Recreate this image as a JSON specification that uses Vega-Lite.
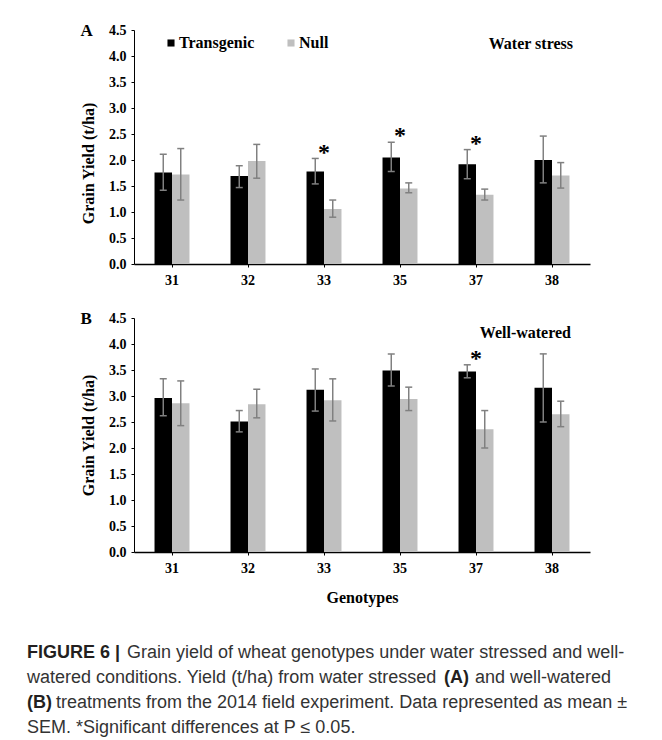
{
  "$schema": "https://vega.github.io/schema/vega-lite/v6.json",
  "background": "white",
  "padding": {"left": 27, "top": 22, "right": 0, "bottom": 0},
  "center": true,
  "spacing": 23,
  "datasets": {
    "yield": [
      {"panel": "A", "genotype": "31", "treatment": "Transgenic", "yield": 1.76, "lo": 1.42, "hi": 2.11},
      {"panel": "A", "genotype": "31", "treatment": "Null", "yield": 1.72, "lo": 1.23, "hi": 2.22},
      {"panel": "A", "genotype": "32", "treatment": "Transgenic", "yield": 1.69, "lo": 1.47, "hi": 1.89},
      {"panel": "A", "genotype": "32", "treatment": "Null", "yield": 1.98, "lo": 1.65, "hi": 2.30},
      {"panel": "A", "genotype": "33", "treatment": "Transgenic", "yield": 1.78, "lo": 1.54, "hi": 2.03},
      {"panel": "A", "genotype": "33", "treatment": "Null", "yield": 1.06, "lo": 0.90, "hi": 1.23},
      {"panel": "A", "genotype": "35", "treatment": "Transgenic", "yield": 2.05, "lo": 1.78, "hi": 2.34},
      {"panel": "A", "genotype": "35", "treatment": "Null", "yield": 1.45, "lo": 1.37, "hi": 1.56},
      {"panel": "A", "genotype": "37", "treatment": "Transgenic", "yield": 1.92, "lo": 1.64, "hi": 2.20},
      {"panel": "A", "genotype": "37", "treatment": "Null", "yield": 1.33, "lo": 1.23, "hi": 1.44},
      {"panel": "A", "genotype": "38", "treatment": "Transgenic", "yield": 2.00, "lo": 1.56, "hi": 2.46},
      {"panel": "A", "genotype": "38", "treatment": "Null", "yield": 1.70, "lo": 1.46, "hi": 1.95},
      {"panel": "B", "genotype": "31", "treatment": "Transgenic", "yield": 2.96, "lo": 2.62, "hi": 3.33},
      {"panel": "B", "genotype": "31", "treatment": "Null", "yield": 2.86, "lo": 2.43, "hi": 3.29},
      {"panel": "B", "genotype": "32", "treatment": "Transgenic", "yield": 2.51, "lo": 2.31, "hi": 2.72},
      {"panel": "B", "genotype": "32", "treatment": "Null", "yield": 2.84, "lo": 2.58, "hi": 3.13},
      {"panel": "B", "genotype": "33", "treatment": "Transgenic", "yield": 3.12, "lo": 2.71, "hi": 3.52},
      {"panel": "B", "genotype": "33", "treatment": "Null", "yield": 2.92, "lo": 2.52, "hi": 3.33},
      {"panel": "B", "genotype": "35", "treatment": "Transgenic", "yield": 3.49, "lo": 3.19, "hi": 3.81},
      {"panel": "B", "genotype": "35", "treatment": "Null", "yield": 2.94, "lo": 2.72, "hi": 3.17},
      {"panel": "B", "genotype": "37", "treatment": "Transgenic", "yield": 3.47, "lo": 3.35, "hi": 3.60},
      {"panel": "B", "genotype": "37", "treatment": "Null", "yield": 2.36, "lo": 2.00, "hi": 2.72},
      {"panel": "B", "genotype": "38", "treatment": "Transgenic", "yield": 3.16, "lo": 2.50, "hi": 3.81},
      {"panel": "B", "genotype": "38", "treatment": "Null", "yield": 2.65, "lo": 2.41, "hi": 2.90}
    ],
    "sig": [
      {"panel": "A", "genotype": "33", "star": 2.21},
      {"panel": "A", "genotype": "35", "star": 2.53},
      {"panel": "A", "genotype": "37", "star": 2.39},
      {"panel": "B", "genotype": "37", "star": 3.78}
    ],
    "caption": [
      {"line": 1, "seg": "b1", "text": "FIGURE 6 |"},
      {"line": 1, "seg": "r1", "text": "Grain yield of wheat genotypes under water stressed and well-"},
      {"line": 2, "seg": "r0", "text": "watered conditions. Yield (t/ha) from water stressed"},
      {"line": 2, "seg": "bA", "text": "(A)"},
      {"line": 2, "seg": "rA", "text": "and well-watered"},
      {"line": 3, "seg": "b1", "text": "(B)"},
      {"line": 3, "seg": "rB", "text": "treatments from the 2014 field experiment. Data represented as mean ±"},
      {"line": 4, "seg": "r0", "text": "SEM. *Significant differences at P ≤ 0.05."}
    ]
  },
  "resolve": {"legend": {"color": "independent"}},
  "vconcat": [
    {
      "width": 456,
      "height": 234,
      "title": {"text": "A", "anchor": "start", "frame": "bounds", "orient": "top", "offset": -17, "font": "Liberation Serif", "fontSize": 17, "fontWeight": "bold", "color": "#000"},
      "layer": [
        {
          "data": {"name": "yield"},
          "transform": [{"filter": "datum.panel === 'A'"}],
          "mark": {"type": "bar"},
          "encoding": {
            "x": {"field": "genotype", "type": "nominal", "title": null, "scale": {"paddingInner": 0.54, "paddingOuter": 0.27}},
            "xOffset": {"field": "treatment", "type": "nominal", "sort": ["Transgenic", "Null"], "scale": {"domain": ["Transgenic", "Null"], "paddingInner": 0}},
            "y": {"field": "yield", "type": "quantitative", "title": "Grain Yield (t/ha)", "scale": {"domain": [0, 4.5], "nice": false}, "axis": {"tickCount": 10, "format": ".1f", "labelOverlap": false, "titleY": 133}},
            "color": {"field": "treatment", "type": "nominal", "scale": {"domain": ["Transgenic", "Null"], "range": ["#000000", "#bfbfbf"]},
              "legend": {"orient": "none", "legendX": 29, "legendY": 5, "direction": "horizontal", "title": null, "symbolType": "square", "symbolSize": 50, "symbolStrokeWidth": 0, "symbolOpacity": 1, "labelFont": "Liberation Serif", "labelFontSize": 16, "labelFontWeight": "bold", "labelColor": "#000", "columnPadding": 28, "labelOffset": 0, "padding": 0}}
          }
        },
        {
          "data": {"name": "yield"},
          "transform": [{"filter": "datum.panel === 'A'"}],
          "mark": {"type": "rule", "color": "#808080", "strokeWidth": 1.5},
          "encoding": {
            "x": {"field": "genotype", "type": "nominal", "title": null},
            "xOffset": {"field": "treatment", "type": "nominal", "sort": ["Transgenic", "Null"]},
            "y": {"field": "lo", "type": "quantitative", "title": "Grain Yield (t/ha)", "axis": {"tickCount": 10, "format": ".1f", "labelOverlap": false}},
            "y2": {"field": "hi"}
          }
        },
        {
          "data": {"name": "yield"},
          "transform": [{"filter": "datum.panel === 'A'"}],
          "mark": {"type": "tick", "orient": "horizontal", "size": 7, "thickness": 1.5, "color": "#808080", "opacity": 1},
          "encoding": {
            "x": {"field": "genotype", "type": "nominal", "title": null},
            "xOffset": {"field": "treatment", "type": "nominal", "sort": ["Transgenic", "Null"]},
            "y": {"field": "lo", "type": "quantitative", "title": "Grain Yield (t/ha)", "axis": {"tickCount": 10, "format": ".1f", "labelOverlap": false}}
          }
        },
        {
          "data": {"name": "yield"},
          "transform": [{"filter": "datum.panel === 'A'"}],
          "mark": {"type": "tick", "orient": "horizontal", "size": 7, "thickness": 1.5, "color": "#808080", "opacity": 1},
          "encoding": {
            "x": {"field": "genotype", "type": "nominal", "title": null},
            "xOffset": {"field": "treatment", "type": "nominal", "sort": ["Transgenic", "Null"]},
            "y": {"field": "hi", "type": "quantitative", "title": "Grain Yield (t/ha)", "axis": {"tickCount": 10, "format": ".1f", "labelOverlap": false}}
          }
        },
        {
          "data": {"name": "sig"},
          "transform": [{"filter": "datum.panel === 'A'"}],
          "mark": {"type": "text", "text": "*", "font": "Liberation Serif", "fontSize": 24, "fontWeight": "bold", "baseline": "alphabetic", "dy": 11, "color": "#000"},
          "encoding": {
            "x": {"field": "genotype", "type": "nominal", "title": null},
            "y": {"field": "star", "type": "quantitative", "title": "Grain Yield (t/ha)", "axis": {"tickCount": 10, "format": ".1f", "labelOverlap": false}}
          }
        },
        {
          "data": {"values": [{}]},
          "mark": {"type": "text", "text": "Water stress", "font": "Liberation Serif", "fontSize": 16, "fontWeight": "bold", "align": "right", "baseline": "middle", "dx": 21, "color": "#000"},
          "encoding": {
            "x": {"datum": "38", "type": "nominal"},
            "y": {"datum": 4.23, "type": "quantitative"}
          }
        }
      ]
    },
    {
      "width": 456,
      "height": 234,
      "title": {"text": "B", "anchor": "start", "frame": "bounds", "orient": "top", "offset": -17, "font": "Liberation Serif", "fontSize": 17, "fontWeight": "bold", "color": "#000"},
      "layer": [
        {
          "data": {"name": "yield"},
          "transform": [{"filter": "datum.panel === 'B'"}],
          "mark": {"type": "bar"},
          "encoding": {
            "x": {"field": "genotype", "type": "nominal", "title": "Genotypes", "scale": {"paddingInner": 0.54, "paddingOuter": 0.27}},
            "xOffset": {"field": "treatment", "type": "nominal", "sort": ["Transgenic", "Null"], "scale": {"domain": ["Transgenic", "Null"], "paddingInner": 0}},
            "y": {"field": "yield", "type": "quantitative", "title": "Grain Yield (t/ha)", "scale": {"domain": [0, 4.5], "nice": false}, "axis": {"tickCount": 10, "format": ".1f", "labelOverlap": false}},
            "color": {"field": "treatment", "type": "nominal", "scale": {"domain": ["Transgenic", "Null"], "range": ["#000000", "#bfbfbf"]}, "legend": null}
          }
        },
        {
          "data": {"name": "yield"},
          "transform": [{"filter": "datum.panel === 'B'"}],
          "mark": {"type": "rule", "color": "#808080", "strokeWidth": 1.5},
          "encoding": {
            "x": {"field": "genotype", "type": "nominal", "title": "Genotypes"},
            "xOffset": {"field": "treatment", "type": "nominal", "sort": ["Transgenic", "Null"]},
            "y": {"field": "lo", "type": "quantitative", "title": "Grain Yield (t/ha)", "axis": {"tickCount": 10, "format": ".1f", "labelOverlap": false}},
            "y2": {"field": "hi"}
          }
        },
        {
          "data": {"name": "yield"},
          "transform": [{"filter": "datum.panel === 'B'"}],
          "mark": {"type": "tick", "orient": "horizontal", "size": 7, "thickness": 1.5, "color": "#808080", "opacity": 1},
          "encoding": {
            "x": {"field": "genotype", "type": "nominal", "title": "Genotypes"},
            "xOffset": {"field": "treatment", "type": "nominal", "sort": ["Transgenic", "Null"]},
            "y": {"field": "lo", "type": "quantitative", "title": "Grain Yield (t/ha)", "axis": {"tickCount": 10, "format": ".1f", "labelOverlap": false}}
          }
        },
        {
          "data": {"name": "yield"},
          "transform": [{"filter": "datum.panel === 'B'"}],
          "mark": {"type": "tick", "orient": "horizontal", "size": 7, "thickness": 1.5, "color": "#808080", "opacity": 1},
          "encoding": {
            "x": {"field": "genotype", "type": "nominal", "title": "Genotypes"},
            "xOffset": {"field": "treatment", "type": "nominal", "sort": ["Transgenic", "Null"]},
            "y": {"field": "hi", "type": "quantitative", "title": "Grain Yield (t/ha)", "axis": {"tickCount": 10, "format": ".1f", "labelOverlap": false}}
          }
        },
        {
          "data": {"name": "sig"},
          "transform": [{"filter": "datum.panel === 'B'"}],
          "mark": {"type": "text", "text": "*", "font": "Liberation Serif", "fontSize": 24, "fontWeight": "bold", "baseline": "alphabetic", "dy": 11, "color": "#000"},
          "encoding": {
            "x": {"field": "genotype", "type": "nominal", "title": "Genotypes"},
            "y": {"field": "star", "type": "quantitative", "title": "Grain Yield (t/ha)", "axis": {"tickCount": 10, "format": ".1f", "labelOverlap": false}}
          }
        },
        {
          "data": {"values": [{}]},
          "mark": {"type": "text", "text": "Well-watered", "font": "Liberation Serif", "fontSize": 16, "fontWeight": "bold", "align": "right", "baseline": "middle", "dx": 19, "color": "#000"},
          "encoding": {
            "x": {"datum": "38", "type": "nominal"},
            "y": {"datum": 4.21, "type": "quantitative"}
          }
        }
      ]
    },
    {
      "width": 600,
      "height": 125,
      "data": {"name": "caption"},
      "encoding": {
        "y": {"field": "line", "type": "ordinal", "axis": null, "scale": {"type": "point", "padding": 1.15}},
        "x": {"value": 0},
        "text": {"field": "text"}
      },
      "layer": [
        {"transform": [{"filter": "datum.seg === 'b1'"}], "mark": {"type": "text", "align": "left", "baseline": "middle", "font": "Liberation Sans", "fontSize": 18, "fontWeight": "bold", "color": "#231f20", "dx": -35}},
        {"transform": [{"filter": "datum.seg === 'r0'"}], "mark": {"type": "text", "align": "left", "baseline": "middle", "font": "Liberation Sans", "fontSize": 18, "color": "#333333", "dx": -35}},
        {"transform": [{"filter": "datum.seg === 'r1'"}], "mark": {"type": "text", "align": "left", "baseline": "middle", "font": "Liberation Sans", "fontSize": 18, "color": "#333333", "dx": 65}},
        {"transform": [{"filter": "datum.seg === 'bA'"}], "mark": {"type": "text", "align": "left", "baseline": "middle", "font": "Liberation Sans", "fontSize": 18, "fontWeight": "bold", "color": "#231f20", "dx": 382}},
        {"transform": [{"filter": "datum.seg === 'rA'"}], "mark": {"type": "text", "align": "left", "baseline": "middle", "font": "Liberation Sans", "fontSize": 18, "color": "#333333", "dx": 413}},
        {"transform": [{"filter": "datum.seg === 'rB'"}], "mark": {"type": "text", "align": "left", "baseline": "middle", "font": "Liberation Sans", "fontSize": 18, "color": "#333333", "dx": -6}}
      ]
    }
  ],
  "config": {
    "font": "Liberation Serif",
    "view": {"stroke": null},
    "axis": {
      "domainColor": "#000000",
      "tickColor": "#000000",
      "labelColor": "#000000",
      "titleColor": "#000000",
      "labelFont": "Liberation Serif",
      "labelFontSize": 14,
      "labelFontWeight": "bold",
      "titleFont": "Liberation Serif",
      "titleFontSize": 16,
      "titleFontWeight": "bold",
      "grid": false,
      "tickSize": 3,
      "domainWidth": 1
    },
    "axisX": {"labelAngle": 0, "labelPadding": 6, "titlePadding": 14, "domainWidth": 1.5},
    "axisY": {"titlePadding": 12, "labelPadding": 5}
  }
}
